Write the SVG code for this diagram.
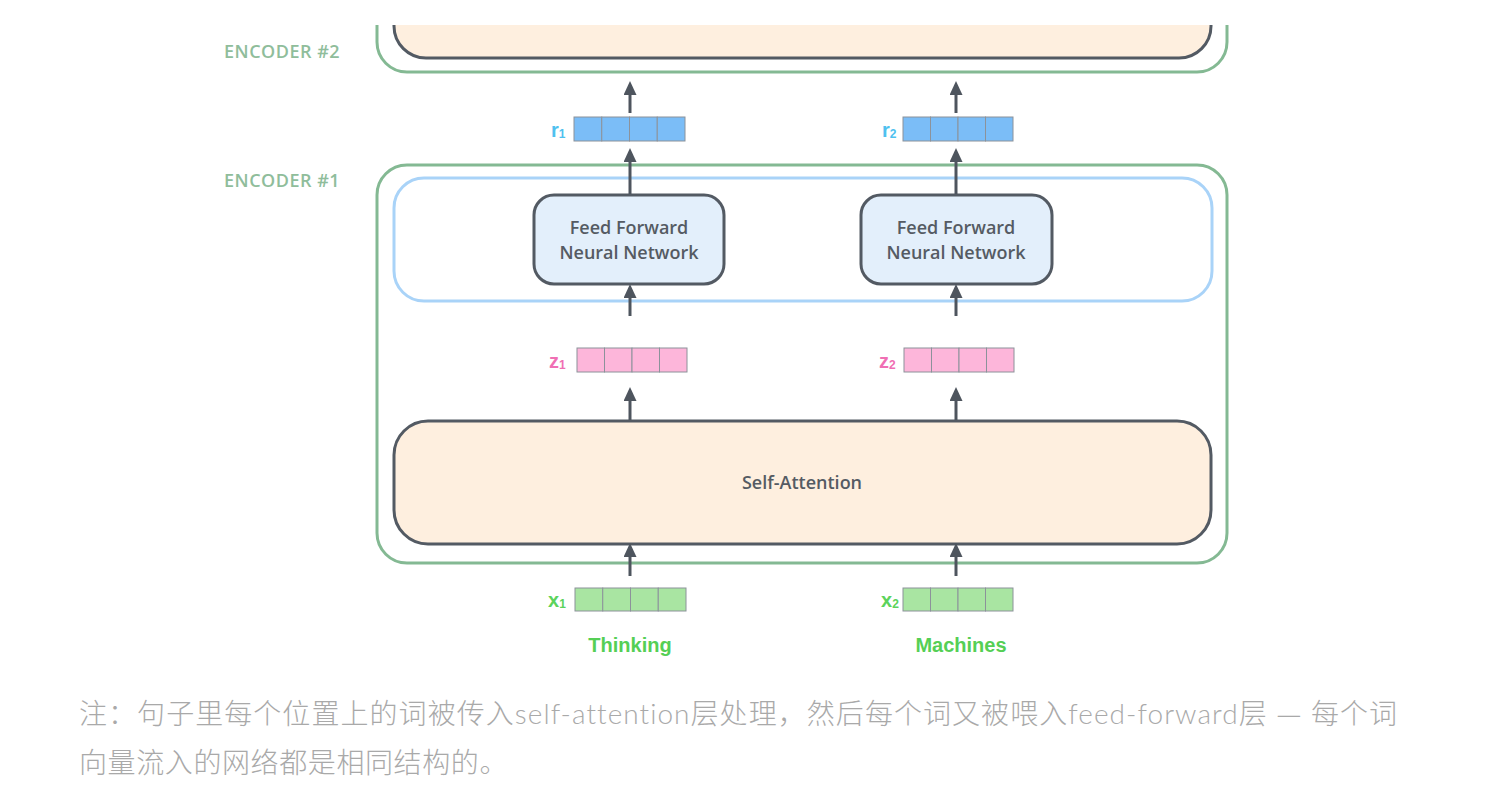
<svg xmlns="http://www.w3.org/2000/svg" width="1510" height="806" viewBox="0 0 1510 806">
<style>
.green{fill:none;stroke:#84b993;stroke-width:3}
.blueb{fill:none;stroke:#a9d3f8;stroke-width:3}
.node{stroke:#535a63;stroke-width:3}
.peach{fill:#feefdf}
.ffn{fill:#e3effb}
.ntext{font-family:"Open Sans","DejaVu Sans",sans-serif;font-size:18px;font-weight:600;fill:#555b63;text-anchor:middle}
.enc{font-family:"Open Sans","DejaVu Sans",sans-serif;font-size:18px;font-weight:600;fill:#8fbd9b;letter-spacing:0.5px}
.cell{stroke:#8c929a;stroke-width:1}
.cb{fill:#7bbdf7}
.cp{fill:#fdb6da}
.cg{fill:#a9e5a2}
.lab{font-family:"Liberation Sans",Arial,sans-serif;font-weight:bold;font-size:20px}
.lb{fill:#4fc1ef}
.lp{fill:#f06fb4}
.lg{fill:#5cd35c}
.word{font-family:"Liberation Sans",Arial,sans-serif;font-weight:bold;font-size:20px;fill:#55cf55;text-anchor:middle}
.arrow{stroke:#4e555e;stroke-width:3;fill:none;marker-end:url(#ah)}
.cap{font-family:Lato,"Noto Sans CJK SC",sans-serif;font-size:28px;font-weight:300;fill:#a9a9a9;font-variant-ligatures:none}
.dash{font-family:"Noto Sans CJK SC",sans-serif}
</style>
<defs>
<marker id="ah" markerUnits="userSpaceOnUse" markerWidth="14" markerHeight="13" viewBox="0 0 14 13" refX="6" refY="6.5" orient="auto">
<path d="M0,0 L14,6.5 L0,13 Z" fill="#4e555e"/>
</marker>
<clipPath id="topclip"><rect x="0" y="25" width="1510" height="781"/></clipPath>
</defs>
<rect width="1510" height="806" fill="#ffffff"/>

<g id="encoder2" clip-path="url(#topclip)">
<rect class="green" x="377" y="-60" width="850" height="132" rx="30"/>
<rect class="node peach" x="394" y="-70" width="817" height="128" rx="32"/>
</g>
<text id="label-encoder2" class="enc" x="224" y="58">ENCODER #2</text>

<g id="encoder1">
<rect class="green" x="377" y="165" width="850" height="398" rx="30"/>
</g>
<text id="label-encoder1" class="enc" x="224" y="187">ENCODER #1</text>

<g id="ffn-layer">
<rect class="blueb" x="394" y="178" width="818" height="123" rx="30"/>
</g>

<g id="ffn1">
<rect class="node ffn" x="534" y="195" width="190" height="89" rx="20"/>
<text class="ntext" x="629" y="234">Feed Forward</text>
<text class="ntext" x="629" y="259">Neural Network</text>
</g>
<g id="ffn2">
<rect class="node ffn" x="861" y="195" width="191" height="89" rx="20"/>
<text class="ntext" x="956" y="234">Feed Forward</text>
<text class="ntext" x="956" y="259">Neural Network</text>
</g>

<g id="self-attention">
<rect class="node peach" x="394" y="421" width="817" height="123" rx="34"/>
<text class="ntext" x="802" y="489">Self-Attention</text>
</g>

<g id="r1">
<rect class="cell cb" x="574" y="117" width="27.75" height="24"/>
<rect class="cell cb" x="601.75" y="117" width="27.75" height="24"/>
<rect class="cell cb" x="629.5" y="117" width="27.75" height="24"/>
<rect class="cell cb" x="657.25" y="117" width="27.75" height="24"/>
<text class="lab lb" x="551" y="137">r<tspan font-size="12" dy="1">1</tspan></text>
</g>
<g id="r2">
<rect class="cell cb" x="903" y="117" width="27.5" height="24"/>
<rect class="cell cb" x="930.5" y="117" width="27.5" height="24"/>
<rect class="cell cb" x="958" y="117" width="27.5" height="24"/>
<rect class="cell cb" x="985.5" y="117" width="27.5" height="24"/>
<text class="lab lb" x="882" y="137">r<tspan font-size="12" dy="1">2</tspan></text>
</g>

<g id="z1">
<rect class="cell cp" x="577" y="348" width="27.5" height="24"/>
<rect class="cell cp" x="604.5" y="348" width="27.5" height="24"/>
<rect class="cell cp" x="632" y="348" width="27.5" height="24"/>
<rect class="cell cp" x="659.5" y="348" width="27.5" height="24"/>
<text class="lab lp" x="549" y="368">z<tspan font-size="12" dy="1">1</tspan></text>
</g>
<g id="z2">
<rect class="cell cp" x="904" y="348" width="27.5" height="24"/>
<rect class="cell cp" x="931.5" y="348" width="27.5" height="24"/>
<rect class="cell cp" x="959" y="348" width="27.5" height="24"/>
<rect class="cell cp" x="986.5" y="348" width="27.5" height="24"/>
<text class="lab lp" x="879" y="368">z<tspan font-size="12" dy="1">2</tspan></text>
</g>

<g id="x1">
<rect class="cell cg" x="575" y="588" width="27.75" height="23"/>
<rect class="cell cg" x="602.75" y="588" width="27.75" height="23"/>
<rect class="cell cg" x="630.5" y="588" width="27.75" height="23"/>
<rect class="cell cg" x="658.25" y="588" width="27.75" height="23"/>
<text class="lab lg" x="548" y="607">x<tspan font-size="12" dy="1">1</tspan></text>
</g>
<g id="x2">
<rect class="cell cg" x="903" y="588" width="27.5" height="23"/>
<rect class="cell cg" x="930.5" y="588" width="27.5" height="23"/>
<rect class="cell cg" x="958" y="588" width="27.5" height="23"/>
<rect class="cell cg" x="985.5" y="588" width="27.5" height="23"/>
<text class="lab lg" x="881" y="607">x<tspan font-size="12" dy="1">2</tspan></text>
</g>

<text id="word-thinking" class="word" x="630" y="652">Thinking</text>
<text id="word-machines" class="word" x="961" y="652">Machines</text>

<g id="connectors">
<line class="arrow" x1="630" y1="576" x2="630" y2="551"/>
<line class="arrow" x1="956" y1="576" x2="956" y2="551"/>
<line class="arrow" x1="630" y1="420" x2="630" y2="395"/>
<line class="arrow" x1="956" y1="420" x2="956" y2="395"/>
<line class="arrow" x1="630" y1="316" x2="630" y2="292"/>
<line class="arrow" x1="956" y1="316" x2="956" y2="292"/>
<line class="arrow" x1="630" y1="194" x2="630" y2="156"/>
<line class="arrow" x1="956" y1="194" x2="956" y2="156"/>
<line class="arrow" x1="630" y1="113" x2="630" y2="89"/>
<line class="arrow" x1="956" y1="113" x2="956" y2="89"/>
</g>

<g id="caption">
<text class="cap" x="79" y="724" textLength="1318" lengthAdjust="spacing">注：句子里每个位置上的词被传入self-attention层处理，然后每个词又被喂入feed-forward层 <tspan class="dash">—</tspan> 每个词</text>
<text class="cap" x="79" y="773" letter-spacing="0.6">向量流入的网络都是相同结构的。</text>
</g>
</svg>
